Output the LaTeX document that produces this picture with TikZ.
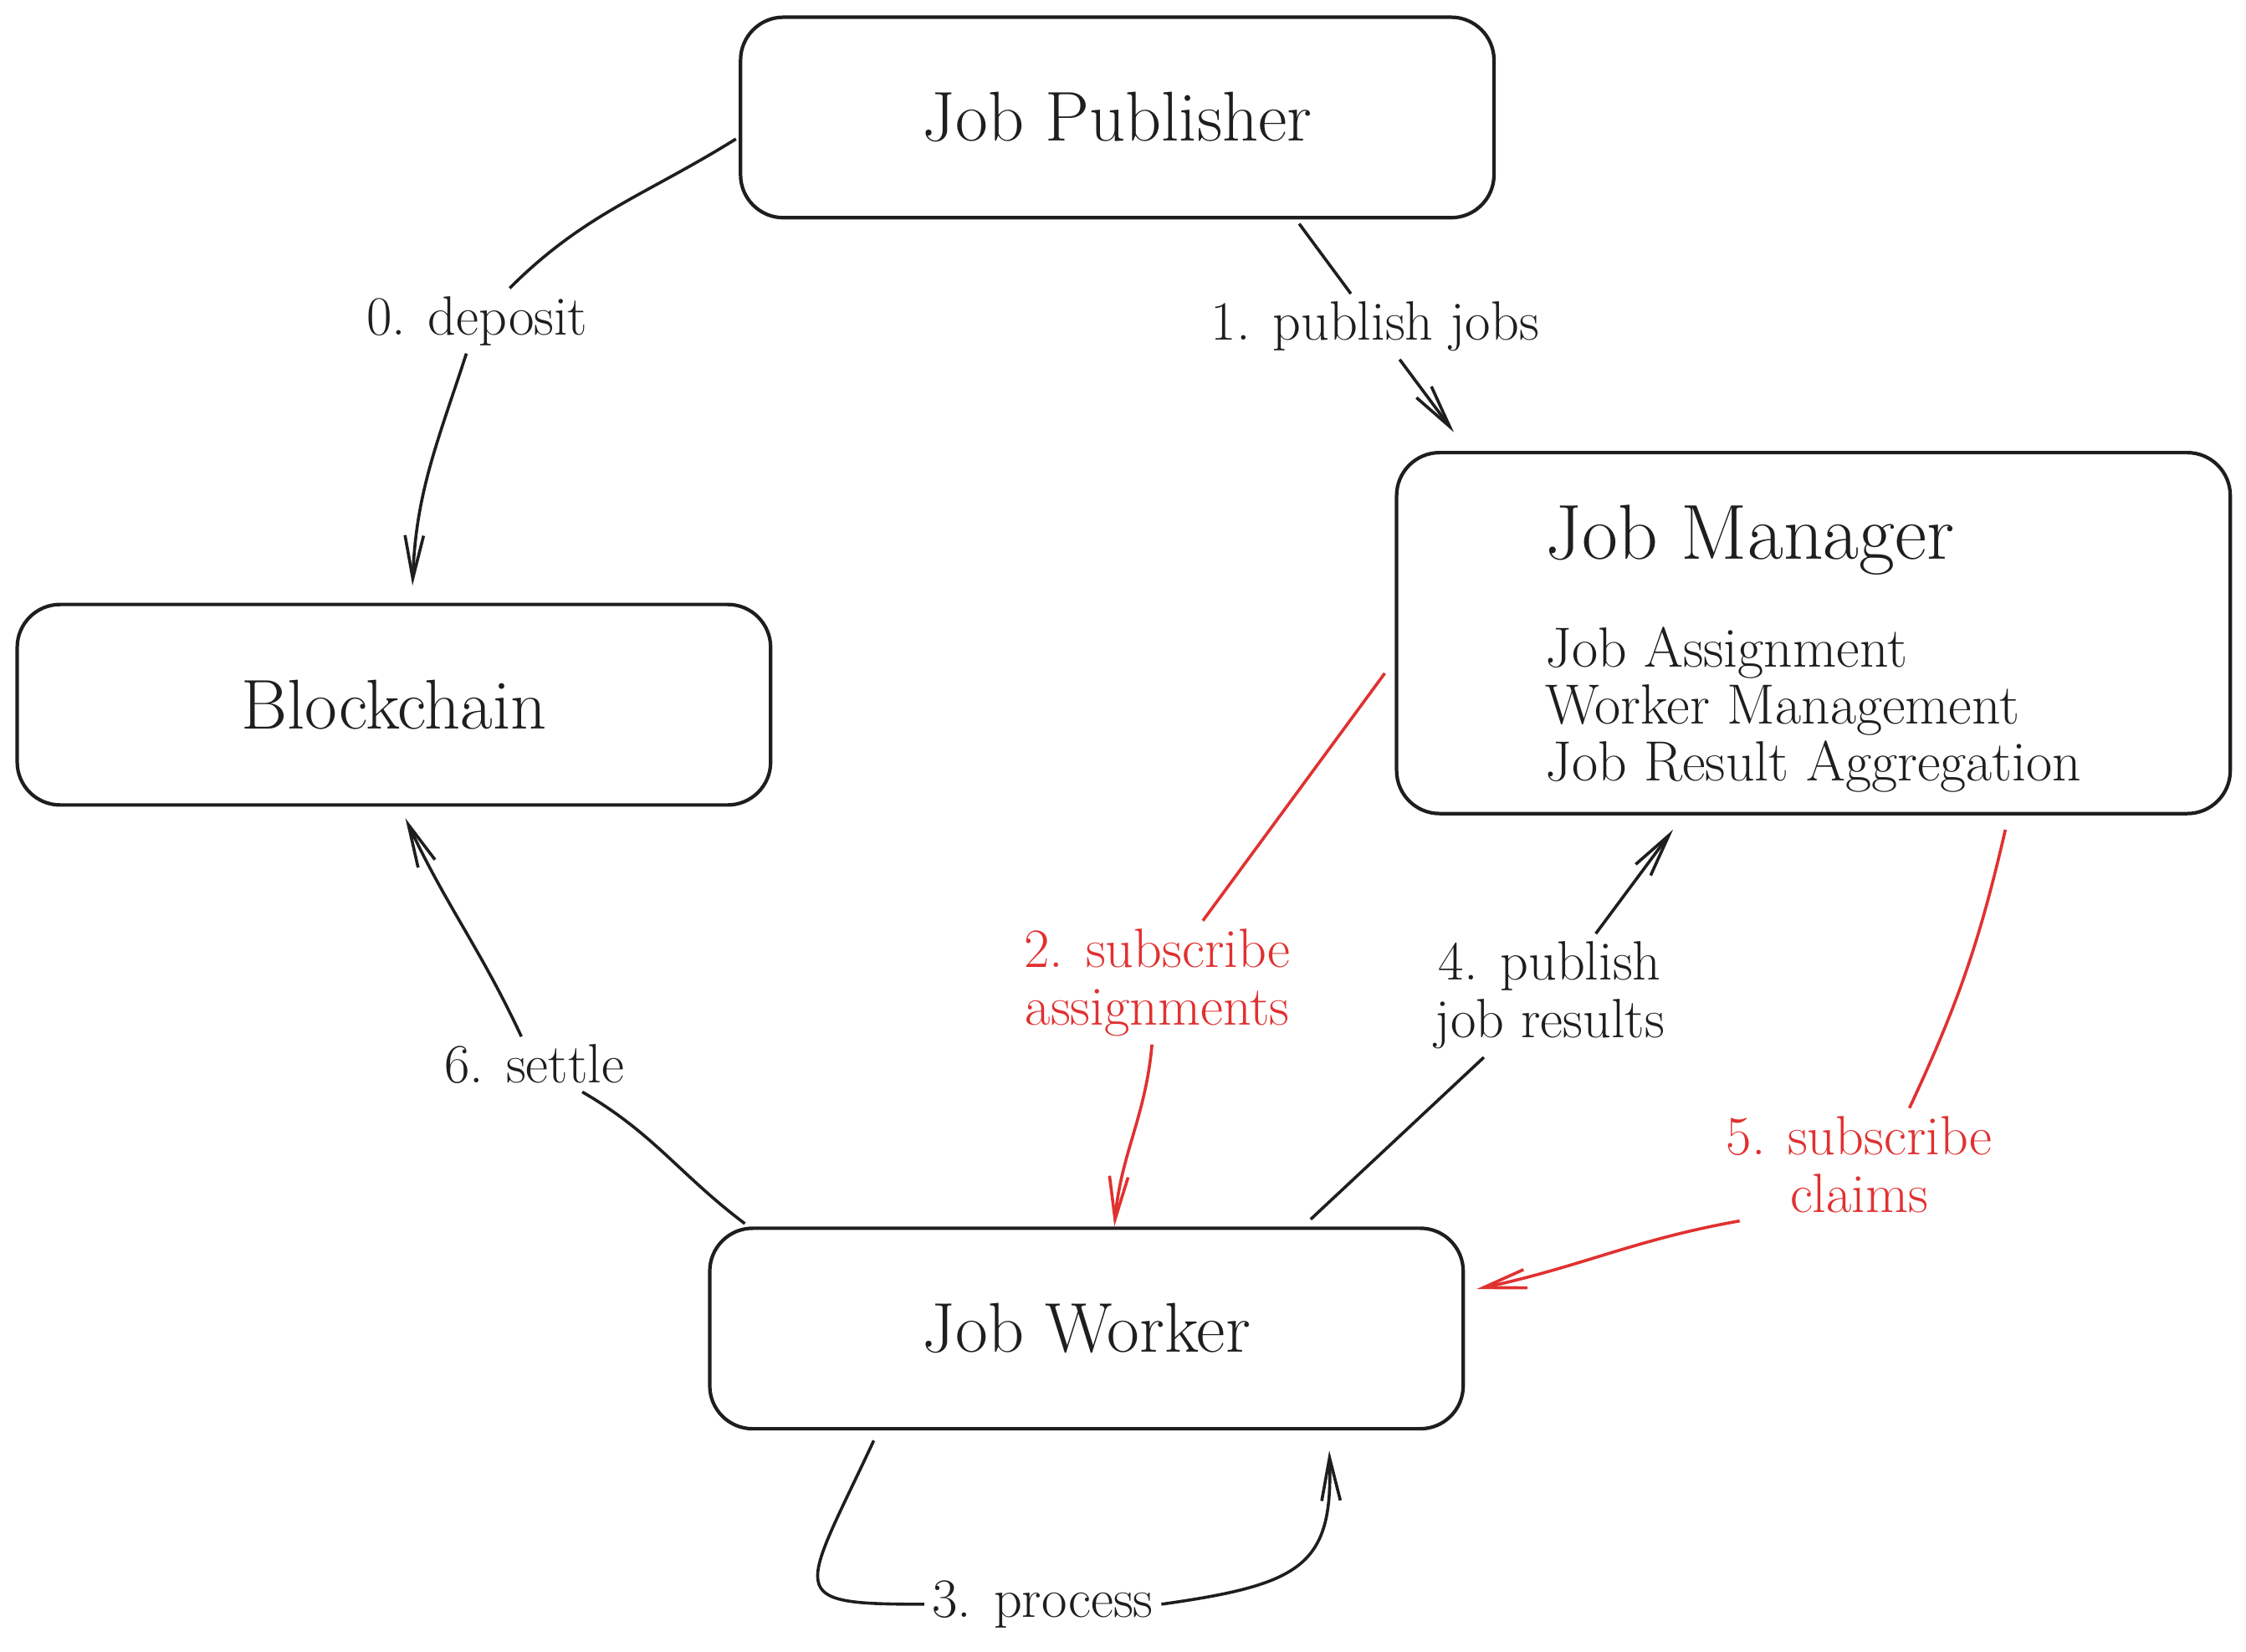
\documentclass[tikz,border=0pt]{standalone}
\usepackage{amsmath, amssymb}
\usepackage{tikz}
\usetikzlibrary{arrows.meta}
\definecolor{ink}{HTML}{1E1E1E}
\definecolor{redink}{HTML}{E03131}

\begin{document}
\begin{tikzpicture}[
	box/.style={draw=ink, line width=1.4pt, rounded corners=0.6cm, minimum width=10.52cm, minimum height=2.8cm, text=ink, font=\fontsize{28}{33}\selectfont},
	lbl/.style={text=ink, inner sep=3pt, align=center, font=\fontsize{22}{23}\selectfont},
	link/.style={draw=ink, line width=1.2pt},
	flow/.style={link, -{Straight Barb[length=6mm,width=2.6mm]}}
	]
\useasboundingbox (0,0) rectangle (31.36,-23.06);
\path (15.6,-1.64) node[box] (pub) {Job Publisher}
		(5.5,-9.84) node[box] (chain) {Blockchain}
		(25.32,-8.84) node[box, minimum width=11.64cm, minimum height=5.04cm, align=left, font=\fontsize{22.5}{22.7}\selectfont] (mgr)
			{{\fontsize{31}{36}\selectfont\rule{0pt}{1.2cm}Job Manager}\\[20pt] Job Assignment\\ Worker Management\\ Job Result Aggregation}
		(15.17,-18.55) node[box] (worker) {Job Worker}
		;
\path (6.66,-4.48) node[lbl] (dep) {0. deposit}
		(19.2,-4.56) node[lbl] (pubj) {1. publish jobs}
		(16.16,-13.72) node[lbl, text=redink] (subA) {2. subscribe\\assignments}
		(14.56,-22.4) node[lbl] (proc) {3. process}
		(21.64,-13.9) node[lbl] (pubr) {4. publish\\job results}
		(25.96,-16.26) node[lbl, text=redink] (subC) {5. subscribe\\claims}
		(7.46,-14.86) node[lbl] (settle) {6. settle}
		;
\coordinate (depA) at ([xshift=-0.04cm, yshift=-0.3cm]pub.west);
\coordinate (depB) at ([xshift=0.26cm, yshift=0.24cm]chain.north);
\coordinate (pubjA) at ([xshift=2.54cm, yshift=-0.06cm]pub.south);
\coordinate (pubjB) at ([xshift=-5.02cm, yshift=0.26cm]mgr.north);
\coordinate (subAA) at ([xshift=-0.14cm, yshift=-0.56cm]mgr.west);
\coordinate (subAB) at ([xshift=0.39cm]worker.north);
\coordinate (procA) at ([xshift=-2.97cm, yshift=-0.14cm]worker.south);
\coordinate (procB) at ([xshift=3.39cm, yshift=-0.28cm]worker.south);
\coordinate (pubrA) at ([xshift=3.13cm, yshift=0.1cm]worker.north);
\coordinate (pubrB) at ([xshift=-1.96cm, yshift=-0.2cm]mgr.south);
\coordinate (subCA) at ([xshift=2.68cm, yshift=-0.2cm]mgr.south);
\coordinate (subCB) at ([xshift=0.16cm, yshift=0.55cm]worker.east);
\coordinate (settleA) at ([xshift=-4.77cm, yshift=0.04cm]worker.north);
\coordinate (settleB) at ([xshift=0.16cm, yshift=-0.16cm]chain.south);
	\draw[link] (depA) to[out=212, in=45] (dep);
	\draw[flow] (dep) to[out=-108, in=88] (depB);
	\draw[link] (pubjA) -- (pubj);
	\draw[flow] (pubj) -- (pubjB);
	\draw[link, draw=redink] (subAA) -- (subA);
	\draw[flow, draw=redink] (subA) to[out=-95, in=85] (subAB);
	\draw[link] (procA) .. controls +(-115:2.4) and +(180:2.0) .. (proc.west);
	\draw[flow] (proc.east) .. controls +(8:2.0) and +(-88:1.6) .. (procB);
	\draw[link] (pubrA) -- (pubr);
	\draw[flow] (pubr) -- (pubrB);
	\draw[link, draw=redink] (subCA) to[out=-103, in=65] ([xshift=0.7cm]subC.north);
	\draw[flow, draw=redink] ([xshift=0.3cm]subC.south west) to[out=190, in=12] (subCB);
	\draw[link] (settleA) to[out=143, in=-30] (settle);
	\draw[flow] (settle) to[out=115, in=-65] (settleB);
\end{tikzpicture}
\end{document}
